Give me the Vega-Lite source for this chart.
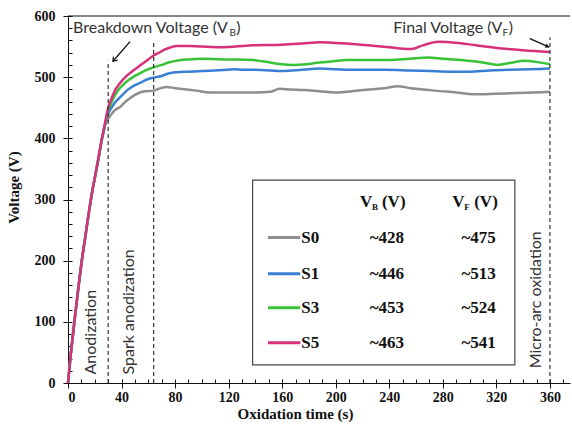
{
  "$schema": "https://vega.github.io/schema/vega-lite/v6.json",
  "width": 502,
  "height": 367,
  "autosize": {"type": "none"},
  "padding": {"left": 68, "top": 16, "right": 2, "bottom": 47},
  "background": "white",
  "config": {
    "view": {"stroke": null},
    "axis": {"labelFont": "Liberation Serif, Times New Roman, serif", "labelFontWeight": "bold", "labelFontSize": 14, "labelColor": "#111", "titleFont": "Liberation Serif, Times New Roman, serif", "titleFontWeight": "bold", "titleFontSize": 15, "titleColor": "#111", "domainColor": "#111", "tickColor": "#111", "grid": false}
  },
  "datasets": {
    "curves": [
      {"Sample": "S0", "t": 0, "V": 0}, {"Sample": "S0", "t": 2, "V": 45}, {"Sample": "S0", "t": 5, "V": 105}, {"Sample": "S0", "t": 8, "V": 160}, {"Sample": "S0", "t": 10, "V": 195}, {"Sample": "S0", "t": 13, "V": 240}, {"Sample": "S0", "t": 15, "V": 270}, {"Sample": "S0", "t": 18, "V": 312}, {"Sample": "S0", "t": 20, "V": 335}, {"Sample": "S0", "t": 23, "V": 370}, {"Sample": "S0", "t": 25, "V": 395}, {"Sample": "S0", "t": 27, "V": 415}, {"Sample": "S0", "t": 28, "V": 424},
      {"Sample": "S0", "t": 29, "V": 428}, {"Sample": "S0", "t": 30, "V": 432}, {"Sample": "S0", "t": 32, "V": 438}, {"Sample": "S0", "t": 35, "V": 446}, {"Sample": "S0", "t": 38.8, "V": 451}, {"Sample": "S0", "t": 42, "V": 458}, {"Sample": "S0", "t": 46, "V": 465}, {"Sample": "S0", "t": 50, "V": 471}, {"Sample": "S0", "t": 53.8, "V": 475}, {"Sample": "S0", "t": 58, "V": 477}, {"Sample": "S0", "t": 63.7, "V": 478}, {"Sample": "S0", "t": 68, "V": 481}, {"Sample": "S0", "t": 73.7, "V": 484}, {"Sample": "S0", "t": 80, "V": 482}, {"Sample": "S0", "t": 88.6, "V": 480}, {"Sample": "S0", "t": 96, "V": 478}, {"Sample": "S0", "t": 106, "V": 475}, {"Sample": "S0", "t": 118.5, "V": 475}, {"Sample": "S0", "t": 130, "V": 475}, {"Sample": "S0", "t": 140, "V": 475}, {"Sample": "S0", "t": 151, "V": 476}, {"Sample": "S0", "t": 158, "V": 481}, {"Sample": "S0", "t": 166, "V": 480}, {"Sample": "S0", "t": 176, "V": 479}, {"Sample": "S0", "t": 188, "V": 477}, {"Sample": "S0", "t": 200.6, "V": 475}, {"Sample": "S0", "t": 212, "V": 477}, {"Sample": "S0", "t": 225.5, "V": 480}, {"Sample": "S0", "t": 236.7, "V": 482}, {"Sample": "S0", "t": 246.5, "V": 485}, {"Sample": "S0", "t": 256, "V": 482}, {"Sample": "S0", "t": 265, "V": 480}, {"Sample": "S0", "t": 274, "V": 478}, {"Sample": "S0", "t": 290, "V": 475}, {"Sample": "S0", "t": 304, "V": 472}, {"Sample": "S0", "t": 320, "V": 473}, {"Sample": "S0", "t": 336, "V": 474}, {"Sample": "S0", "t": 348, "V": 475}, {"Sample": "S0", "t": 360, "V": 476},
      {"Sample": "S1", "t": 0, "V": 0}, {"Sample": "S1", "t": 2, "V": 45}, {"Sample": "S1", "t": 5, "V": 105}, {"Sample": "S1", "t": 8, "V": 160}, {"Sample": "S1", "t": 10, "V": 195}, {"Sample": "S1", "t": 13, "V": 240}, {"Sample": "S1", "t": 15, "V": 270}, {"Sample": "S1", "t": 18, "V": 312}, {"Sample": "S1", "t": 20, "V": 335}, {"Sample": "S1", "t": 23, "V": 370}, {"Sample": "S1", "t": 25, "V": 395}, {"Sample": "S1", "t": 27, "V": 415}, {"Sample": "S1", "t": 28, "V": 425},
      {"Sample": "S1", "t": 29, "V": 433}, {"Sample": "S1", "t": 30, "V": 440}, {"Sample": "S1", "t": 32, "V": 448}, {"Sample": "S1", "t": 35, "V": 458}, {"Sample": "S1", "t": 38.8, "V": 467}, {"Sample": "S1", "t": 42, "V": 474}, {"Sample": "S1", "t": 45, "V": 480}, {"Sample": "S1", "t": 50, "V": 487}, {"Sample": "S1", "t": 55, "V": 492}, {"Sample": "S1", "t": 60, "V": 497}, {"Sample": "S1", "t": 63.7, "V": 499}, {"Sample": "S1", "t": 70, "V": 502}, {"Sample": "S1", "t": 75, "V": 506}, {"Sample": "S1", "t": 81, "V": 508}, {"Sample": "S1", "t": 90, "V": 509}, {"Sample": "S1", "t": 100, "V": 510}, {"Sample": "S1", "t": 118.5, "V": 512}, {"Sample": "S1", "t": 125, "V": 513}, {"Sample": "S1", "t": 130, "V": 512}, {"Sample": "S1", "t": 140, "V": 512}, {"Sample": "S1", "t": 151, "V": 511}, {"Sample": "S1", "t": 160, "V": 510}, {"Sample": "S1", "t": 175, "V": 512}, {"Sample": "S1", "t": 188, "V": 514}, {"Sample": "S1", "t": 200, "V": 513}, {"Sample": "S1", "t": 215, "V": 512}, {"Sample": "S1", "t": 236.7, "V": 512}, {"Sample": "S1", "t": 255, "V": 511}, {"Sample": "S1", "t": 270, "V": 510}, {"Sample": "S1", "t": 285, "V": 509}, {"Sample": "S1", "t": 300, "V": 509}, {"Sample": "S1", "t": 315, "V": 511}, {"Sample": "S1", "t": 330, "V": 512}, {"Sample": "S1", "t": 345, "V": 513}, {"Sample": "S1", "t": 360, "V": 514},
      {"Sample": "S3", "t": 0, "V": 0}, {"Sample": "S3", "t": 2, "V": 45}, {"Sample": "S3", "t": 5, "V": 105}, {"Sample": "S3", "t": 8, "V": 160}, {"Sample": "S3", "t": 10, "V": 195}, {"Sample": "S3", "t": 13, "V": 240}, {"Sample": "S3", "t": 15, "V": 270}, {"Sample": "S3", "t": 18, "V": 312}, {"Sample": "S3", "t": 20, "V": 335}, {"Sample": "S3", "t": 23, "V": 370}, {"Sample": "S3", "t": 25, "V": 395}, {"Sample": "S3", "t": 27, "V": 416}, {"Sample": "S3", "t": 28, "V": 426},
      {"Sample": "S3", "t": 29, "V": 437}, {"Sample": "S3", "t": 30, "V": 446}, {"Sample": "S3", "t": 32, "V": 456}, {"Sample": "S3", "t": 34, "V": 466}, {"Sample": "S3", "t": 36.3, "V": 475}, {"Sample": "S3", "t": 40, "V": 485}, {"Sample": "S3", "t": 45, "V": 495}, {"Sample": "S3", "t": 50, "V": 502}, {"Sample": "S3", "t": 55, "V": 508}, {"Sample": "S3", "t": 60, "V": 513}, {"Sample": "S3", "t": 63.7, "V": 516}, {"Sample": "S3", "t": 70, "V": 520}, {"Sample": "S3", "t": 75, "V": 524}, {"Sample": "S3", "t": 81, "V": 527}, {"Sample": "S3", "t": 90, "V": 529}, {"Sample": "S3", "t": 100, "V": 530}, {"Sample": "S3", "t": 118.5, "V": 529}, {"Sample": "S3", "t": 138, "V": 528}, {"Sample": "S3", "t": 145, "V": 526}, {"Sample": "S3", "t": 151, "V": 524}, {"Sample": "S3", "t": 160, "V": 521}, {"Sample": "S3", "t": 168, "V": 520}, {"Sample": "S3", "t": 178, "V": 521}, {"Sample": "S3", "t": 188, "V": 524}, {"Sample": "S3", "t": 198, "V": 526}, {"Sample": "S3", "t": 208, "V": 528}, {"Sample": "S3", "t": 225, "V": 528}, {"Sample": "S3", "t": 240, "V": 528}, {"Sample": "S3", "t": 255, "V": 530}, {"Sample": "S3", "t": 269, "V": 532}, {"Sample": "S3", "t": 280, "V": 530}, {"Sample": "S3", "t": 299, "V": 527}, {"Sample": "S3", "t": 310, "V": 524}, {"Sample": "S3", "t": 321, "V": 520}, {"Sample": "S3", "t": 330, "V": 523}, {"Sample": "S3", "t": 341, "V": 527}, {"Sample": "S3", "t": 350, "V": 525}, {"Sample": "S3", "t": 360, "V": 521},
      {"Sample": "S5", "t": 0, "V": 0}, {"Sample": "S5", "t": 2, "V": 45}, {"Sample": "S5", "t": 5, "V": 105}, {"Sample": "S5", "t": 8, "V": 160}, {"Sample": "S5", "t": 10, "V": 195}, {"Sample": "S5", "t": 13, "V": 240}, {"Sample": "S5", "t": 15, "V": 270}, {"Sample": "S5", "t": 18, "V": 312}, {"Sample": "S5", "t": 20, "V": 335}, {"Sample": "S5", "t": 23, "V": 371}, {"Sample": "S5", "t": 25, "V": 396}, {"Sample": "S5", "t": 27, "V": 418}, {"Sample": "S5", "t": 28, "V": 429},
      {"Sample": "S5", "t": 29, "V": 440}, {"Sample": "S5", "t": 30, "V": 450}, {"Sample": "S5", "t": 32, "V": 462}, {"Sample": "S5", "t": 35, "V": 478}, {"Sample": "S5", "t": 38, "V": 488}, {"Sample": "S5", "t": 43.8, "V": 502}, {"Sample": "S5", "t": 50, "V": 513}, {"Sample": "S5", "t": 55, "V": 521}, {"Sample": "S5", "t": 60, "V": 529}, {"Sample": "S5", "t": 63.7, "V": 535}, {"Sample": "S5", "t": 68, "V": 540}, {"Sample": "S5", "t": 72, "V": 545}, {"Sample": "S5", "t": 77, "V": 549}, {"Sample": "S5", "t": 81, "V": 551}, {"Sample": "S5", "t": 90, "V": 551}, {"Sample": "S5", "t": 100, "V": 550}, {"Sample": "S5", "t": 113.5, "V": 549}, {"Sample": "S5", "t": 125, "V": 550}, {"Sample": "S5", "t": 138, "V": 552}, {"Sample": "S5", "t": 160, "V": 553}, {"Sample": "S5", "t": 175, "V": 555}, {"Sample": "S5", "t": 188, "V": 557}, {"Sample": "S5", "t": 200, "V": 556}, {"Sample": "S5", "t": 215, "V": 554}, {"Sample": "S5", "t": 230, "V": 551}, {"Sample": "S5", "t": 240.5, "V": 549}, {"Sample": "S5", "t": 248, "V": 547}, {"Sample": "S5", "t": 256.7, "V": 546}, {"Sample": "S5", "t": 265, "V": 552}, {"Sample": "S5", "t": 276.5, "V": 558}, {"Sample": "S5", "t": 291.5, "V": 556}, {"Sample": "S5", "t": 305, "V": 552}, {"Sample": "S5", "t": 324, "V": 547}, {"Sample": "S5", "t": 340, "V": 544}, {"Sample": "S5", "t": 360, "V": 541}
    ],
    "stages": [
      {"t": 30, "bottom": 0, "top": 527},
      {"t": 64, "bottom": 0, "top": 560},
      {"t": 360, "bottom": 0, "top": 565}
    ],
    "stageLabels": [
      {"label": "Anodization", "t": 17.2, "V": 14},
      {"label": "Spark anodization", "t": 45.6, "V": 14},
      {"label": "Micro-arc oxidation", "t": 349.5, "V": 24}
    ],
    "notes": [
      {"main": "Breakdown Voltage (V", "t": 3.8, "V": 580},
      {"main": "Final Voltage (V", "t": 243, "V": 580}
    ],
    "noteSubs": [
      {"s": "B", "t": 120.6, "V": 580},
      {"s": "F", "t": 324.6, "V": 580}
    ],
    "noteClose": [
      {"s": ")", "t": 125.6, "V": 580},
      {"s": ")", "t": 329.2, "V": 580}
    ],
    "arrows": [
      {"t1": 46.3, "V1": 558, "t2": 33.6, "V2": 526, "kind": "open"},
      {"t1": 345, "V1": 563, "t2": 359.5, "V2": 549, "kind": "filled"}
    ],
    "box": [
      {"t1": 137.9, "t2": 333.8, "V1": 29.5, "V2": 331.6}
    ],
    "table": [
      {"Sample": "S0", "row": 237.7, "VB": "~428", "VF": "~475", "s1": 149.4, "s2": 173.5, "lab": 174.2, "cb": 238.2, "cf": 306.8},
      {"Sample": "S1", "row": 178.7, "VB": "~446", "VF": "~513", "s1": 149.4, "s2": 173.5, "lab": 174.2, "cb": 238.2, "cf": 306.8},
      {"Sample": "S3", "row": 123, "VB": "~453", "VF": "~524", "s1": 149.4, "s2": 173.5, "lab": 174.2, "cb": 238.2, "cf": 306.8},
      {"Sample": "S5", "row": 65.6, "VB": "~463", "VF": "~541", "s1": 149.4, "s2": 173.5, "lab": 174.2, "cb": 238.2, "cf": 306.8}
    ],
    "headers": [
      {"main": "V", "sub": "B", "unit": "(V)", "t": 218.1, "V": 296},
      {"main": "V", "sub": "F", "unit": "(V)", "t": 287, "V": 296}
    ],
    "frame": [
      {"t1": 0, "t2": 375, "V": 600}
    ]
  },
  "data": {"name": "curves"},
  "resolve": {"axis": {"x": "independent", "y": "independent"}},
  "layer": [
    {
      "mark": {"type": "line", "strokeWidth": 2.5, "interpolate": "monotone"},
      "encoding": {
        "x": {"field": "t", "type": "quantitative", "scale": {"domain": [0, 375], "nice": false, "zero": false},
              "axis": {"values": [0, 40, 80, 120, 160, 200, 240, 280, 320, 360], "tickSize": 5, "labelPadding": 2, "title": "Oxidation time (s)", "titleX": 227, "titleY": 30, "titleBaseline": "middle", "titleAlign": "center"}},
        "y": {"field": "V", "type": "quantitative", "scale": {"domain": [0, 600], "nice": false},
              "axis": {"values": [0, 100, 200, 300, 400, 500, 600], "tickSize": 5, "labelPadding": 8, "title": "Voltage (V)", "titleX": -55, "titleY": 171, "titleBaseline": "middle", "titleAlign": "center", "titleAngle": -90}},
        "color": {"field": "Sample", "type": "nominal", "scale": {"domain": ["S0", "S1", "S3", "S5"], "range": ["#8e8e8e", "#3a7fd6", "#38c238", "#d6317a"]}, "legend": null},
        "order": {"field": "t", "type": "quantitative"}
      }
    },
    {
      "data": {"name": "stages"},
      "mark": {"type": "rule", "strokeDash": [4, 3], "strokeWidth": 1.2, "color": "#333"},
      "encoding": {
        "x": {"field": "t", "type": "quantitative",
              "axis": {"orient": "bottom", "values": [0,10,20,30,40,50,60,70,80,90,100,110,120,130,140,150,160,170,180,190,200,210,220,230,240,250,260,270,280,290,300,310,320,330,340,350,360,370], "tickSize": -4, "labels": false, "domain": false, "title": null}},
        "y": {"field": "bottom", "type": "quantitative",
              "axis": {"orient": "left", "values": [0,20,40,60,80,100,120,140,160,180,200,220,240,260,280,300,320,340,360,380,400,420,440,460,480,500,520,540,560,580,600], "tickSize": -4, "labels": false, "domain": false, "title": null}},
        "y2": {"field": "top"}
      }
    },
    {
      "data": {"name": "frame"},
      "mark": {"type": "rule", "color": "#111", "strokeWidth": 1},
      "encoding": {
        "x": {"field": "t1", "type": "quantitative", "axis": null},
        "x2": {"field": "t2"},
        "y": {"field": "V", "type": "quantitative", "axis": null}
      }
    },
    {
      "data": {"name": "stageLabels"},
      "mark": {"type": "text", "angle": 270, "align": "left", "baseline": "middle", "font": "Lato", "fontSize": 16, "color": "#333"},
      "encoding": {
        "x": {"field": "t", "type": "quantitative", "axis": null},
        "y": {"field": "V", "type": "quantitative", "axis": null},
        "text": {"field": "label"}
      }
    },
    {
      "data": {"name": "notes"},
      "mark": {"type": "text", "align": "left", "baseline": "middle", "font": "Lato", "fontSize": 16, "color": "#333"},
      "encoding": {
        "x": {"field": "t", "type": "quantitative", "axis": null},
        "y": {"field": "V", "type": "quantitative", "axis": null},
        "text": {"field": "main"}
      }
    },
    {
      "data": {"name": "noteSubs"},
      "mark": {"type": "text", "align": "left", "baseline": "middle", "font": "Lato", "fontSize": 10, "dy": 5, "color": "#333"},
      "encoding": {
        "x": {"field": "t", "type": "quantitative", "axis": null},
        "y": {"field": "V", "type": "quantitative", "axis": null},
        "text": {"field": "s"}
      }
    },
    {
      "data": {"name": "noteClose"},
      "mark": {"type": "text", "align": "left", "baseline": "middle", "font": "Lato", "fontSize": 16, "color": "#333"},
      "encoding": {
        "x": {"field": "t", "type": "quantitative", "axis": null},
        "y": {"field": "V", "type": "quantitative", "axis": null},
        "text": {"field": "s"}
      }
    },
    {
      "data": {"name": "arrows"},
      "mark": {"type": "rule", "color": "#111", "strokeWidth": 1.3},
      "encoding": {
        "x": {"field": "t1", "type": "quantitative", "axis": null},
        "y": {"field": "V1", "type": "quantitative", "axis": null},
        "x2": {"field": "t2"},
        "y2": {"field": "V2"}
      }
    },
    {
      "data": {"name": "arrows"},
      "transform": [{"filter": "datum.kind == 'open'"}],
      "mark": {"type": "point", "shape": "M -0.7 1 L 0 0 L 0.7 1", "filled": false, "stroke": "#111", "strokeWidth": 1.3, "size": 60, "angle": 221, "opacity": 1},
      "encoding": {
        "x": {"field": "t2", "type": "quantitative", "axis": null},
        "y": {"field": "V2", "type": "quantitative", "axis": null}
      }
    },
    {
      "data": {"name": "arrows"},
      "transform": [{"filter": "datum.kind == 'filled'"}],
      "mark": {"type": "point", "shape": "M -0.6 1 L 0 0 L 0.6 1 Z", "filled": true, "color": "#111", "size": 60, "angle": 115, "opacity": 1},
      "encoding": {
        "x": {"field": "t2", "type": "quantitative", "axis": null},
        "y": {"field": "V2", "type": "quantitative", "axis": null}
      }
    },
    {
      "data": {"name": "box"},
      "mark": {"type": "rect", "fill": "white", "stroke": "#444", "strokeWidth": 1.2},
      "encoding": {
        "x": {"field": "t1", "type": "quantitative", "axis": null},
        "x2": {"field": "t2"},
        "y": {"field": "V1", "type": "quantitative", "axis": null},
        "y2": {"field": "V2"}
      }
    },
    {
      "data": {"name": "table"},
      "mark": {"type": "rule", "strokeWidth": 3},
      "encoding": {
        "x": {"field": "s1", "type": "quantitative", "axis": null},
        "x2": {"field": "s2"},
        "y": {"field": "row", "type": "quantitative", "axis": null},
        "color": {"field": "Sample", "type": "nominal", "legend": null}
      }
    },
    {
      "data": {"name": "table"},
      "mark": {"type": "text", "align": "left", "baseline": "middle", "font": "Liberation Serif, Times New Roman, serif", "fontWeight": "bold", "fontSize": 17, "color": "#111"},
      "encoding": {
        "x": {"field": "lab", "type": "quantitative", "axis": null},
        "y": {"field": "row", "type": "quantitative", "axis": null},
        "text": {"field": "Sample"}
      }
    },
    {
      "data": {"name": "table"},
      "mark": {"type": "text", "align": "center", "baseline": "middle", "font": "Liberation Serif, Times New Roman, serif", "fontWeight": "bold", "fontSize": 17, "color": "#111"},
      "encoding": {
        "x": {"field": "cb", "type": "quantitative", "axis": null},
        "y": {"field": "row", "type": "quantitative", "axis": null},
        "text": {"field": "VB"}
      }
    },
    {
      "data": {"name": "table"},
      "mark": {"type": "text", "align": "center", "baseline": "middle", "font": "Liberation Serif, Times New Roman, serif", "fontWeight": "bold", "fontSize": 17, "color": "#111"},
      "encoding": {
        "x": {"field": "cf", "type": "quantitative", "axis": null},
        "y": {"field": "row", "type": "quantitative", "axis": null},
        "text": {"field": "VF"}
      }
    },
    {
      "data": {"name": "headers"},
      "mark": {"type": "text", "align": "left", "baseline": "middle", "font": "Liberation Serif, Times New Roman, serif", "fontWeight": "bold", "fontSize": 17, "color": "#111"},
      "encoding": {
        "x": {"field": "t", "type": "quantitative", "axis": null},
        "y": {"field": "V", "type": "quantitative", "axis": null},
        "text": {"field": "main"}
      }
    },
    {
      "data": {"name": "headers"},
      "mark": {"type": "text", "align": "left", "baseline": "middle", "font": "Liberation Serif, Times New Roman, serif", "fontWeight": "bold", "fontSize": 9, "dx": 12, "dy": 5, "color": "#111"},
      "encoding": {
        "x": {"field": "t", "type": "quantitative", "axis": null},
        "y": {"field": "V", "type": "quantitative", "axis": null},
        "text": {"field": "sub"}
      }
    },
    {
      "data": {"name": "headers"},
      "mark": {"type": "text", "align": "left", "baseline": "middle", "font": "Liberation Serif, Times New Roman, serif", "fontWeight": "bold", "fontSize": 17, "dx": 22, "color": "#111"},
      "encoding": {
        "x": {"field": "t", "type": "quantitative", "axis": null},
        "y": {"field": "V", "type": "quantitative", "axis": null},
        "text": {"field": "unit"}
      }
    }
  ]
}
